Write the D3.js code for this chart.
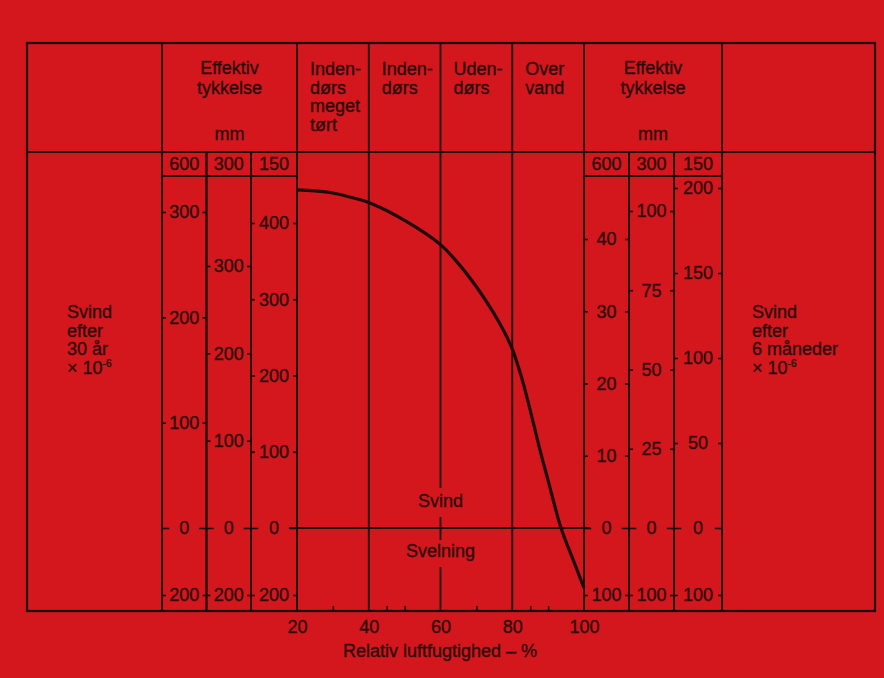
<!DOCTYPE html>
<html><head><meta charset="utf-8">
<script src="https://cdn.jsdelivr.net/npm/d3@7"></script>
<style>
body{margin:0;background:#d4171d}
svg{display:block}
text{font-family:"Liberation Sans",Arial,Helvetica,sans-serif;fill:#2a0b0b;stroke:#2a0b0b;stroke-width:0.35px}
</style>
</head><body><svg id="c" width="884" height="678"></svg>
<script>
// ---- data ----
const rh = [20,25,30,35,40,50,60,65,70,75,77.5,80,82.5,85,87.5,90,93.6,97,100];
const shrink = [321,320,318,314,309,292,269,251,229,203,188,170,144,112,77,45,0,-96,-179];
const rhTicks = [20,40,60,80,100];
const rhMinorTicks = [30,45,50,70,85,90];
const zoneBounds = [20,40,60,80,100];
const zoneLabels = [["Inden-","dørs","meget","tørt"],["Inden-","dørs"],["Uden-","dørs"],["Over","vand"]];
const thicknesses = ["600","300","150"];
const left600 = [300,200,100,0,-200];
const left300 = [300,200,100,0,-200];
const left150 = [400,300,200,100,0,-200];
const right600 = [40,30,20,10,0,-100];
const right300 = [100,75,50,25,0,-100];
const right150 = [200,150,100,50,0,-100];
const headerLines = ["Effektiv","tykkelse"];
const unitLabel = "mm";
const leftTitle = ["Svind","efter","30 år","× 10"];
const rightTitle = ["Svind","efter","6 måneder","× 10"];
const exponent = "-6";
const xTitle = "Relativ luftfugtighed – %";
const shrinkLabel = "Svind", swellLabel = "Svelning";

// ---- layout ----
const svg = d3.select("#c");
const INK = "#1d0909";
const L = 27, R = 875, T = 43, B = 611, HB = 152, SB = 176;
const Y0 = 528, YB = 595;
const x = d3.scaleLinear().domain([20,100]).range([297,584]);
const y = d3.scaleLinear().domain([-200,0,300]).range([YB,Y0,212]);

svg.append("rect").attr("width",884).attr("height",678).attr("fill","#d4171d");

const g = svg.append("g");
function line(x1,y1,x2,y2,w){
  g.append("line").attr("x1",x1).attr("y1",y1).attr("x2",x2).attr("y2",y2)
   .attr("stroke",INK).attr("stroke-width",w||1.8);
}
// frame
g.append("rect").attr("x",L).attr("y",T).attr("width",R-L).attr("height",B-T)
 .attr("fill","none").attr("stroke",INK).attr("stroke-width",2.2);
line(L,HB,R,HB);
line(162,T,162,B);
line(722,T,722,B);

// axis columns
const leftCols = [
  {x0:162,x1:206.5,ticks:left600,dom:[-200,0,300],top:212},
  {x0:206.5,x1:251,ticks:left300,dom:[-200,0,300],top:266},
  {x0:251,x1:297,ticks:left150,dom:[-200,0,400],top:223}
];
const rightCols = [
  {x0:584,x1:629,ticks:right600,dom:[-100,0,40],top:239},
  {x0:629,x1:674,ticks:right300,dom:[-100,0,100],top:211},
  {x0:674,x1:722,ticks:right150,dom:[-100,0,200],top:188}
];
line(162,SB,297,SB);
line(584,SB,722,SB);
[leftCols,rightCols].forEach(cols=>{
  cols.forEach((c,i)=>{
    line(c.x0,HB,c.x0,B);
    line(c.x1,HB,c.x1,B);
    g.append("text").attr("x",(c.x0+c.x1)/2).attr("y",170)
     .attr("text-anchor","middle").attr("font-size",18).text(thicknesses[i]);
    const s = d3.scaleLinear().domain(c.dom).range([YB,Y0,c.top]);
    const aL = g.append("g").attr("transform",`translate(${c.x0},0)`)
      .call(d3.axisRight(s).tickValues(c.ticks).tickSize(4).tickSizeOuter(0).tickFormat(""));
    const aR = g.append("g").attr("transform",`translate(${c.x1},0)`)
      .call(d3.axisLeft(s).tickValues(c.ticks).tickSize(4).tickSizeOuter(0).tickFormat(""));
    [aL,aR].forEach(a=>{
      a.select(".domain").remove();
      a.selectAll("line").attr("stroke",INK).attr("stroke-width",1.6);
      a.selectAll(".tick").filter(d=>d===0).select("line")
        .attr("x2",function(){return +d3.select(this).attr("x2")*1.8;});
    });
    g.selectAll(null).data(c.ticks).enter().append("text")
     .attr("x",(c.x0+c.x1)/2).attr("y",d=>s(d)).attr("dy","0.36em")
     .attr("text-anchor","middle").attr("font-size",18)
     .text(d=>Math.abs(d));
  });
});

// header texts over axis columns
[229.5,653].forEach(cx=>{
  headerLines.forEach((t,i)=>{
    g.append("text").attr("x",cx).attr("y",74+i*19.5).attr("text-anchor","middle")
     .attr("font-size",18).text(t);
  });
  g.append("text").attr("x",cx).attr("y",140).attr("text-anchor","middle")
   .attr("font-size",18).text(unitLabel);
});

// zone columns
zoneBounds.forEach(v=>{
  if(v===60){
    line(x(v),T,x(v),488);
    line(x(v),517,x(v),540);
    line(x(v),567,x(v),B);
  } else line(x(v),T,x(v),B);
});
zoneLabels.forEach((lines,i)=>{
  lines.forEach((t,j)=>{
    g.append("text").attr("x",x(zoneBounds[i])+13).attr("y",75+j*18.7)
     .attr("font-size",18).text(t);
  });
});

// zero line
line(289,Y0,590,Y0,1.8);
g.append("text").attr("x",x(60)).attr("y",507).attr("text-anchor","middle")
 .attr("font-size",18).text(shrinkLabel);
g.append("text").attr("x",x(60)).attr("y",557).attr("text-anchor","middle")
 .attr("font-size",18).text(swellLabel);

// x axis
const ax = g.append("g").attr("transform",`translate(0,${B})`)
  .call(d3.axisBottom(x).tickValues(rhTicks).tickSize(0).tickPadding(9).tickSizeOuter(0));
ax.select(".domain").remove();
ax.selectAll("text").attr("font-size",18).attr("font-family",null).attr("fill","#2a0b0b");
const am = g.append("g").attr("transform",`translate(0,${B})`)
  .call(d3.axisTop(x).tickValues(rhMinorTicks).tickSize(5).tickFormat("").tickSizeOuter(0));
am.select(".domain").remove();
am.selectAll("line").attr("stroke",INK).attr("stroke-width",1.6);
g.append("text").attr("x",440).attr("y",657).attr("text-anchor","middle")
 .attr("font-size",18).text(xTitle);

// side titles
function title(lines,x0){
  lines.forEach((t,i)=>{
    const tx = g.append("text").attr("x",x0).attr("y",318+i*18.7).attr("font-size",18).text(t);
    if(i===lines.length-1){
      tx.append("tspan").attr("font-size",10).attr("dy",-7).text(exponent);
    }
  });
}
title(leftTitle,67);
title(rightTitle,752);

// curve
const pts = rh.map((v,i)=>[x(v),y(shrink[i])]);
g.append("path").attr("d",d3.line().curve(d3.curveCatmullRom.alpha(0.5))(pts))
 .attr("fill","none").attr("stroke",INK).attr("stroke-width",3.2);
</script>
</body></html>
